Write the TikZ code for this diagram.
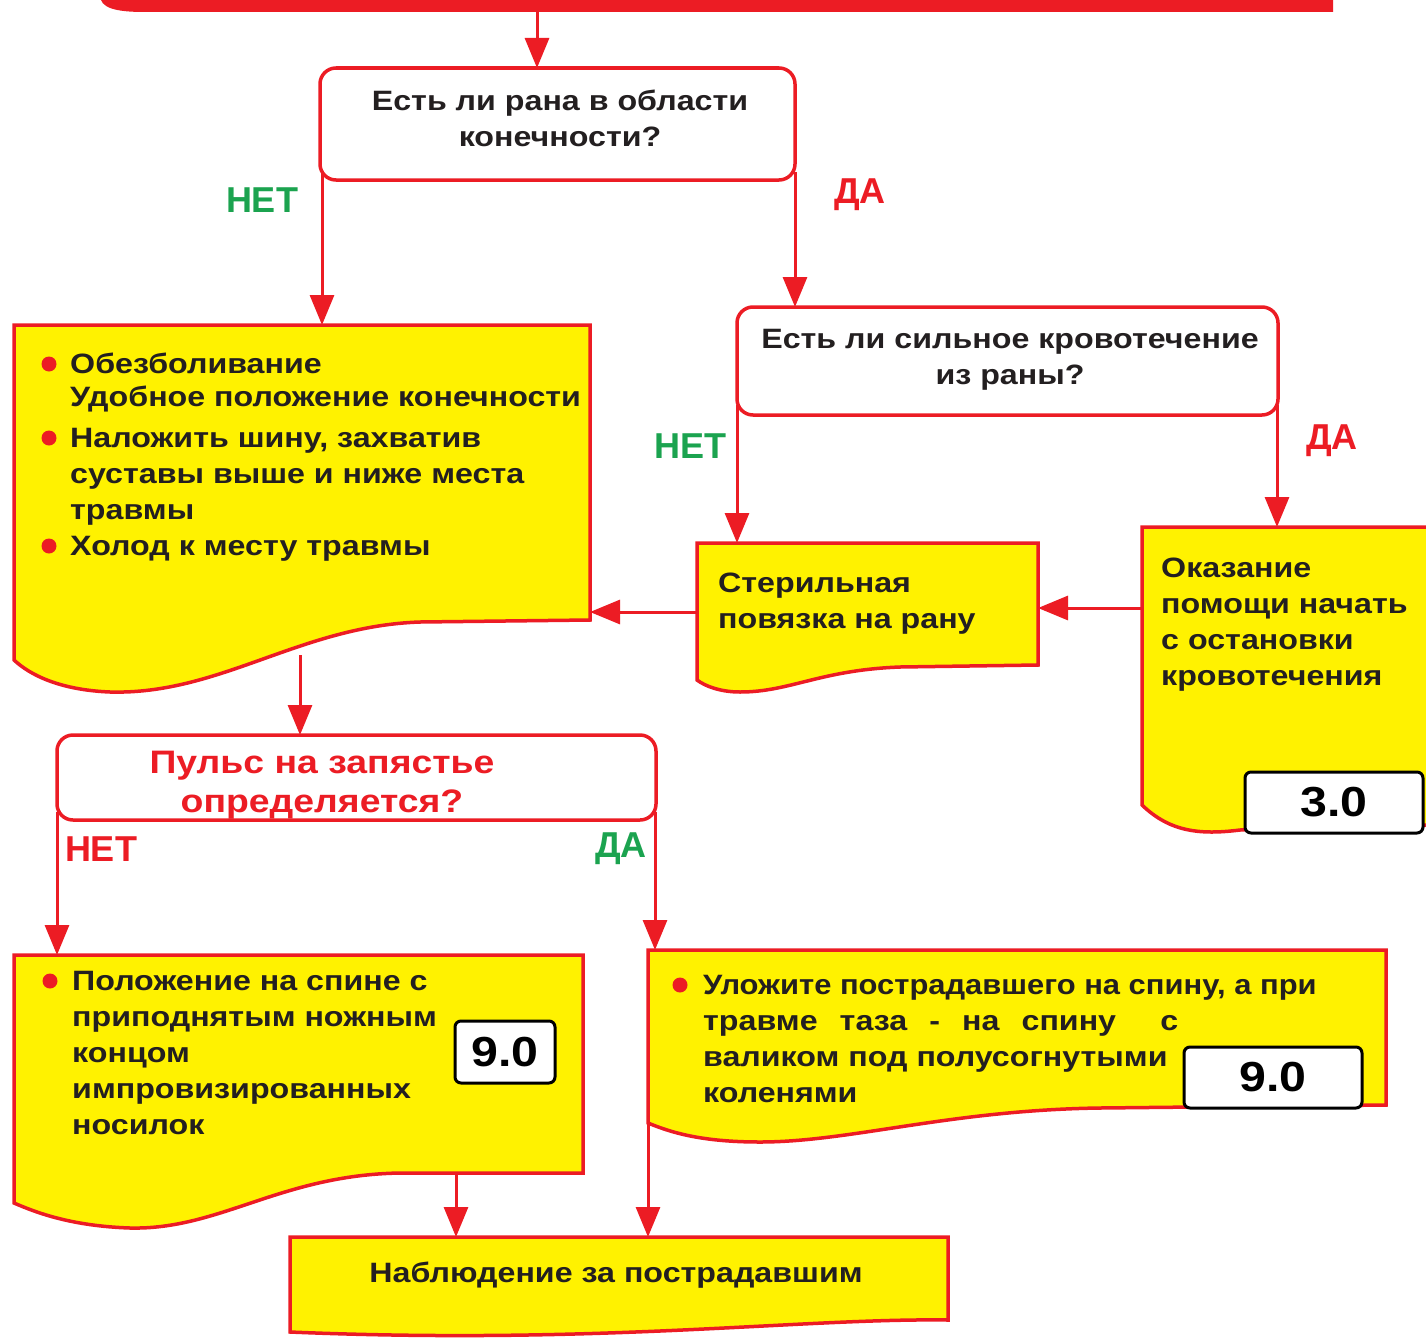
\documentclass[tikz,border=0pt]{standalone}
\usepackage{fontspec}
\setmainfont{Liberation Sans}
\newfontfamily\bodyfont{Liberation Sans}[FakeStretch=1.15]
\usetikzlibrary{arrows.meta}
\definecolor{fred}{HTML}{EC1C24}
\definecolor{fyel}{HTML}{FFF200}
\definecolor{fgrn}{HTML}{1BA34F}
\definecolor{ftxt}{HTML}{231F20}
\begin{document}
\begin{tikzpicture}[x=1pt,y=-1pt,
  conn/.style={draw=fred,line width=3pt,-{Triangle[length=30pt,width=24pt]}},
  qbox/.style={draw=fred,line width=3.5pt,fill=white,rounded corners=16pt},
  dbox/.style={draw=fred,line width=3.5pt,fill=fyel},
  numbox/.style={draw=black,line width=3pt,fill=white,rounded corners=6pt,inner sep=0pt,font=\bodyfont\bfseries\fontsize{42}{48}\selectfont},
  txt/.style={font=\bodyfont\bfseries\fontsize{28}{36}\selectfont,text=ftxt,inner sep=0pt,align=left},
  qtxt/.style={txt,align=center},
  lab/.style={font=\fontsize{36}{40}\selectfont\bfseries,inner sep=0pt},
  bul/.style={circle,fill=fred,inner sep=0pt,minimum size=15pt}]
\clip (0,0) rectangle (1426,1338);
\fill[white] (0,0) rectangle (1426,1338);
% top bar
\fill[fred] (100,-30) -- (100,-5) .. controls (100,8) and (115,12) .. (145,12) -- (1333,12) -- (1333,-30) -- cycle;
\coordinate (topbar) at (537,12);
% question boxes
\draw[qbox] (320,68) rectangle (795,180);
\node[qtxt,anchor=base] (q1) at (560,146) {Есть ли рана в области\\конечности?};
\draw[qbox] (737,307) rectangle (1278,415);
\node[qtxt,anchor=base] (q2) at (1010,384) {Есть ли сильное кровотечение\\из раны?};
\draw[qbox] (57,735) rectangle (656,820);
\node[qtxt,anchor=base,text=fred,font=\bodyfont\bfseries\fontsize{32.5}{39}\selectfont] (q3) at (322,812) {Пульс на запястье\\определяется?};
% document boxes
\draw[dbox] (14,325) -- (590,325) -- (590,620) -- (420,622) .. controls (300,626) and (220,695) .. (110,692) .. controls (60,690) and (30,675) .. (14,660) -- cycle;
\node[bul] (b1) at (49,364) {};
\node[txt,anchor=base west,font=\bodyfont\bfseries\fontsize{28}{33}\selectfont] (t1a) at (70,406) {Обезболивание\\Удобное положение конечности};
\node[bul] (b2) at (49,438) {};
\node[txt,anchor=base west] (t1b) at (70,519) {Наложить шину, захватив\\суставы выше и ниже места\\травмы};
\node[bul] (b3) at (49,546) {};
\node[txt,anchor=base west] (t1c) at (70,555) {Холод к месту травмы};

\draw[dbox] (697,543) -- (1038,543) -- (1038,665) -- (900,667) .. controls (820,670) and (790,692) .. (740,692) .. controls (720,692) and (705,686) .. (697,680) -- cycle;
\node[txt,anchor=base west] (t4) at (718,628) {Стерильная\\повязка на рану};

\draw[dbox] (1142,527) -- (1432,527) -- (1432,825) -- (1240,830) .. controls (1200,835) and (1170,832) .. (1142,805) -- cycle;
\node[txt,anchor=base west] (t5) at (1161,685) {Оказание\\помощи начать\\с остановки\\кровотечения};
\node[numbox,minimum width=178pt,minimum height=61pt] (n1) at (1334,802.5) {3.0};

\draw[dbox] (14,955) -- (583,955) -- (583,1173) -- (400,1173) .. controls (280,1175) and (220,1230) .. (130,1228) .. controls (70,1226) and (35,1212) .. (14,1203) -- cycle;
\node[bul] (b7) at (50,981) {};
\node[txt,anchor=base west] (t7) at (72,1134) {Положение на спине с\\приподнятым ножным\\концом\\импровизированных\\носилок};
\node[numbox,minimum width=100pt,minimum height=62pt] (n2) at (505,1052) {9.0};

\draw[dbox] (648,950) -- (1386,950) -- (1386,1105) -- (1100,1108) .. controls (950,1110) and (850,1142) .. (760,1142) .. controls (700,1142) and (670,1132) .. (648,1123) -- cycle;
\node[bul] (b8) at (680,985) {};
\node[txt,anchor=base west] (t8) at (703,1102) {\scalebox{0.96}[1]{Уложите пострадавшего на спину, а при}\\\makebox[475pt][s]{травме\hfill таза\hfill -\hfill на\hfill спину\hfill\hfill с}\\валиком под полусогнутыми\\коленями};
\node[numbox,minimum width=178pt,minimum height=61pt] (n3) at (1273,1077.5) {9.0};

\draw[dbox] (290,1237) -- (948,1237) -- (948,1320) .. controls (800,1318) and (600,1345) .. (290,1332) -- cycle;
\node[txt,anchor=base] (t9) at (616,1282) {Наблюдение за пострадавшим};

% labels
\node[lab,text=fgrn] (l1) at (262,200) {НЕТ};
\node[lab,text=fred] (l2) at (860,195) {ДА};
\node[lab,text=fgrn] (l3) at (690,446) {НЕТ};
\node[lab,text=fred] (l4) at (1332,441) {ДА};
\node[lab,text=fred] (l5) at (101,849) {НЕТ};
\node[lab,text=fgrn] (l6) at (621,849) {ДА};

% connectors
\coordinate (q1top) at (537,68);
\coordinate (q1l) at (322,172); \coordinate (d3top) at (322,325);
\coordinate (q1r) at (795,172); \coordinate (q2top) at (795,307);
\coordinate (q2l) at (737,405); \coordinate (d4top) at (737,543);
\coordinate (q2r) at (1277,405); \coordinate (d5top) at (1277,527);
\coordinate (d4l) at (697,612); \coordinate (d3r) at (590,612);
\coordinate (d5l) at (1142,608); \coordinate (d4r) at (1038,608);
\coordinate (d3bot) at (300,655); \coordinate (q3top) at (300,735);
\coordinate (q3l) at (57,812); \coordinate (d7top) at (57,955);
\coordinate (q3r) at (655,812); \coordinate (d8top) at (655,950);
\coordinate (d7bot) at (456,1175); \coordinate (d9a) at (456,1237);
\coordinate (d8bot) at (648,1124); \coordinate (d9b) at (648,1237);
\draw[conn] (topbar) -- (q1top);
\draw[conn] (q1l) -- (d3top);
\draw[conn] (q1r) -- (q2top);
\draw[conn] (q2l) -- (d4top);
\draw[conn] (q2r) -- (d5top);
\draw[conn] (d4l) -- (d3r);
\draw[conn] (d5l) -- (d4r);
\draw[conn] (d3bot) -- (q3top);
\draw[conn] (q3l) -- (d7top);
\draw[conn] (q3r) -- (d8top);
\draw[conn] (d7bot) -- (d9a);
\draw[conn] (d8bot) -- (d9b);
\end{tikzpicture}
\end{document}
